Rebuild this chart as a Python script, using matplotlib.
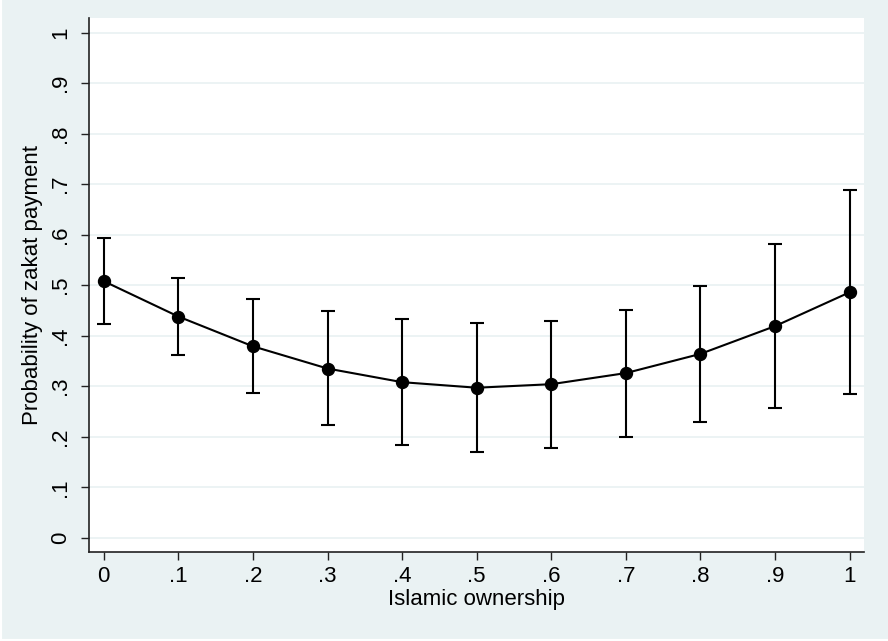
#!/usr/bin/env python3

import matplotlib
matplotlib.use("Agg")
import matplotlib.pyplot as plt
from matplotlib.lines import Line2D

# Predicted probability of zakat payment by Islamic ownership (with 95% CI)
ownership = [0.0, 0.1, 0.2, 0.3, 0.4, 0.5, 0.6, 0.7, 0.8, 0.9, 1.0]
prob = [0.508, 0.438, 0.379, 0.335, 0.308, 0.297, 0.304, 0.326, 0.364, 0.419, 0.486]
ci_low = [0.423, 0.362, 0.287, 0.223, 0.184, 0.170, 0.177, 0.200, 0.230, 0.256, 0.285]
ci_high = [0.594, 0.515, 0.472, 0.448, 0.433, 0.425, 0.429, 0.450, 0.498, 0.581, 0.688]

x_ticks = [0, 0.1, 0.2, 0.3, 0.4, 0.5, 0.6, 0.7, 0.8, 0.9, 1.0]
x_labels = ["0", ".1", ".2", ".3", ".4", ".5", ".6", ".7", ".8", ".9", "1"]
y_ticks = [0, 0.1, 0.2, 0.3, 0.4, 0.5, 0.6, 0.7, 0.8, 0.9, 1.0]
y_labels = ["0", ".1", ".2", ".3", ".4", ".5", ".6", ".7", ".8", ".9", "1"]

BG = "#eaf2f3"

plt.rcParams["font.family"] = ["Liberation Sans", "DejaVu Sans"]

fig = plt.figure(figsize=(8.88, 6.41), dpi=100, facecolor=BG)
# thin white edge on the left and bottom of the graph region
fig.lines.append(Line2D([0, 0], [0, 1], transform=fig.transFigure,
                        color="white", linewidth=3))
fig.lines.append(Line2D([0, 1], [0, 0], transform=fig.transFigure,
                        color="white", linewidth=3))

ax = fig.add_axes([0.1006, 0.1393, 0.8727, 0.8331])
ax.set_facecolor("white")

err_low = [p - lo for p, lo in zip(prob, ci_low)]
err_high = [hi - p for p, hi in zip(prob, ci_high)]
ax.errorbar(ownership, prob, yerr=[err_low, err_high], fmt="none",
            ecolor="black", elinewidth=1.5, capsize=4.7, capthick=1.5, zorder=2)
ax.plot(ownership, prob, color="black", linewidth=1.5, marker="o",
        markersize=8.6, zorder=3)

ax.set_xlim(-0.0193, 1.0196)
ax.set_ylim(-0.0277, 1.0297)

ax.set_xticks(x_ticks)
ax.set_xticklabels(x_labels)
ax.set_yticks(y_ticks)
ax.set_yticklabels(y_labels, rotation=90, va="center")

ax.tick_params(axis="both", direction="out", length=6, width=1,
               labelsize=16, color="#222222")
ax.tick_params(axis="x", pad=4)
ax.tick_params(axis="y", pad=7)

ax.grid(axis="y", color=BG, linewidth=1.3)
ax.set_axisbelow(True)

for side in ["top", "right"]:
    ax.spines[side].set_visible(False)
for side in ["left", "bottom"]:
    ax.spines[side].set_color("#222222")
    ax.spines[side].set_linewidth(1.2)

ax.set_xlabel("Islamic ownership", fontsize=16, labelpad=2)
ax.set_ylabel("Probability of zakat payment", fontsize=16, labelpad=5)

plt.savefig("out.png", dpi=100, facecolor=BG)
